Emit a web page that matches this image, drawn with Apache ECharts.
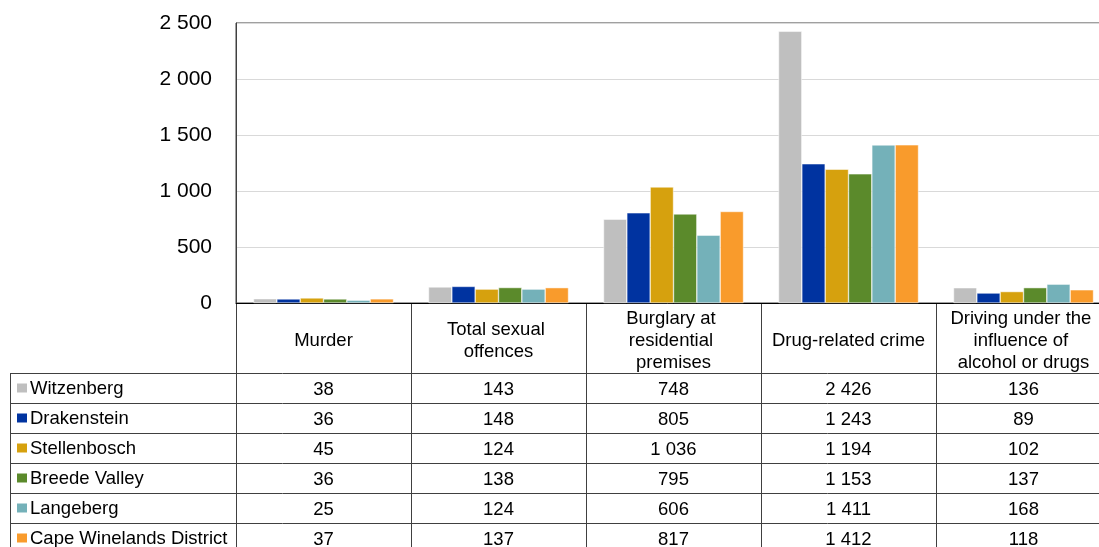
<!DOCTYPE html>
<html><head><meta charset="utf-8">
<script src="https://cdn.jsdelivr.net/npm/echarts@6/dist/echarts.min.js"></script>
<style>html,body{margin:0;padding:0;background:#fff}#c{width:1099px;height:547px}</style>
</head>
<body><div id="c"></div>
<script>
const categories = ['Murder', 'Total sexual offences', 'Burglary at residential premises', 'Drug-related crime', 'Driving under the influence of alcohol or drugs'];
const seriesNames = ['Witzenberg', 'Drakenstein', 'Stellenbosch', 'Breede Valley', 'Langeberg', 'Cape Winelands District'];
const witzenberg = [38, 143, 748, 2426, 136];
const drakenstein = [36, 148, 805, 1243, 89];
const stellenbosch = [45, 124, 1036, 1194, 102];
const breedeValley = [36, 138, 795, 1153, 137];
const langeberg = [25, 124, 606, 1411, 168];
const capeWinelands = [37, 137, 817, 1412, 118];
const yTicks = [0, 500, 1000, 1500, 2000, 2500];

const seriesValues = [witzenberg, drakenstein, stellenbosch, breedeValley, langeberg, capeWinelands];
const colors = ['#BFBFBF', '#0033A0', '#D6A10E', '#5B8A2B', '#74B1B9', '#F99B2C'];
const FONT = '"Liberation Sans", Arial, sans-serif';
const fmt = n => String(n).replace(/\B(?=(\d{3})+(?!\d))/g, ' ');

const chart = echarts.init(document.getElementById('c'));
const option = {
  animation: false,
  backgroundColor: '#fff',
  textStyle: { fontFamily: FONT },
  grid: { left: 236, top: 23, width: 875, height: 280, show: true, borderColor: '#404040', borderWidth: 1, containLabel: false, outerBoundsMode: 'none' },
  xAxis: {
    type: 'category', data: categories,
    axisLine: { show: true, lineStyle: { color: '#000', width: 1 } },
    axisTick: { show: false },
    axisLabel: { interval: 0, margin: 38, verticalAlign: 'middle', width: 156, overflow: 'break', lineHeight: 22, fontSize: 18.5, color: '#000', fontFamily: FONT, align: 'center' }
  },
  yAxis: {
    type: 'value', min: yTicks[0], max: yTicks[yTicks.length - 1], interval: yTicks[1] - yTicks[0],
    axisLine: { show: true, lineStyle: { color: '#404040' } },
    axisTick: { show: false },
    splitLine: { lineStyle: { color: '#D9D9D9', width: 1 } },
    axisLabel: { margin: 24, fontSize: 21, color: '#000', fontFamily: FONT, padding: [4, 0, 0, 0], formatter: v => fmt(v) }
  },
  series: seriesNames.map((name, i) => ({
    name, type: 'bar', data: seriesValues[i],
    barGap: '0%', barCategoryGap: '20%',
    itemStyle: { color: colors[i], borderColor: '#fff', borderWidth: 0.5 }
  }))
};
chart.setOption(option);

// Data table beneath the chart, positioned from the axis scales
const c0 = chart.convertToPixel({ xAxisIndex: 0 }, 0);
const c1 = chart.convertToPixel({ xAxisIndex: 0 }, 1);
const band = c1 - c0;
const y0 = chart.convertToPixel({ yAxisIndex: 0 }, 0);
const headerH = 70, rowH = 30, tableLeft = 10;
const plotLeft = c0 - band / 2;
const plotRight = plotLeft + band * categories.length;
const rowsTop = y0 + headerH;
const tableBottom = rowsTop + rowH * seriesNames.length;
const lineColor = '#404040';
const els = [];
for (let r = 0; r <= seriesNames.length; r++) {
  const y = Math.round(rowsTop + r * rowH) + 0.5;
  els.push({ type: 'line', silent: true, shape: { x1: tableLeft, y1: y, x2: plotRight, y2: y }, style: { stroke: lineColor, lineWidth: 1 } });
}
els.push({ type: 'line', silent: true, shape: { x1: tableLeft + 0.5, y1: rowsTop, x2: tableLeft + 0.5, y2: tableBottom }, style: { stroke: lineColor, lineWidth: 1 } });
for (let k = 0; k <= categories.length; k++) {
  const x = Math.round(plotLeft + k * band) + 0.5;
  els.push({ type: 'line', silent: true, shape: { x1: x, y1: y0, x2: x, y2: tableBottom }, style: { stroke: lineColor, lineWidth: 1 } });
}
seriesNames.forEach((name, r) => {
  const cy = rowsTop + r * rowH + rowH / 2;
  els.push({ type: 'rect', silent: true, shape: { x: 17, y: cy - 4.5, width: 10, height: 9 }, style: { fill: colors[r] } });
  els.push({ type: 'text', silent: true, x: 30, y: cy + 1, style: { text: name, fontSize: 18.5, fontFamily: FONT, fill: '#000', align: 'left', verticalAlign: 'middle' } });
  seriesValues[r].forEach((v, k) => {
    const cx = chart.convertToPixel({ xAxisIndex: 0 }, k);
    els.push({ type: 'text', silent: true, x: cx, y: cy + 2, style: { text: fmt(v), fontSize: 18.5, fontFamily: FONT, fill: '#000', align: 'center', verticalAlign: 'middle' } });
  });
});
chart.setOption({ graphic: { elements: els } });
</script>
</body></html>
